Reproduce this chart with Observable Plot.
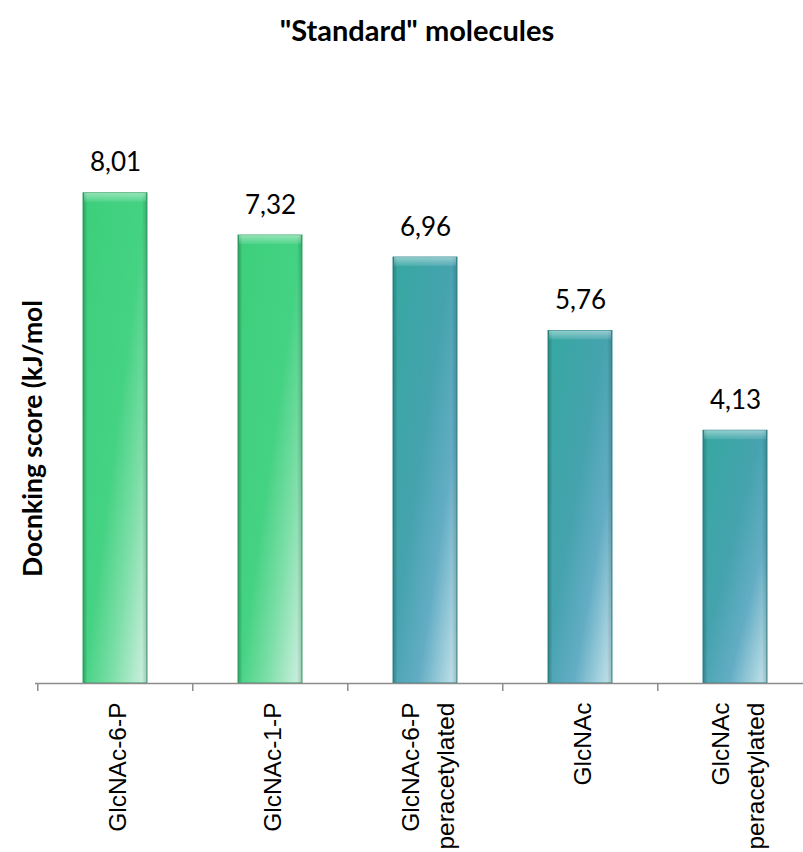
<!DOCTYPE html>
<html>
<head>
<meta charset="utf-8">
<script src="https://cdn.jsdelivr.net/npm/d3@7"></script>
<script src="https://cdn.jsdelivr.net/npm/@observablehq/plot@0.6"></script>
<style>
  body { margin: 0; background: #fff; }
  #title { width: 803px; height: 60px; box-sizing: border-box; padding-top: 15px; padding-left: 31px;
    text-align: center; font-family: Lato, "Open Sans", sans-serif; font-weight: bold; font-size: 29px; line-height: 29px; color: #000; }
</style>
</head>
<body>
<div id="title">"Standard" molecules</div>
<div id="chart"></div>
<script>
const names = ["GlcNAc-6-P", "GlcNAc-1-P", "GlcNAc-6-P\nperacetylated", "GlcNAc", "GlcNAc\nperacetylated"];
const scores = [8.01, 7.32, 6.96, 5.76, 4.13];
const groups = ["green", "green", "teal", "teal", "teal"];
const yLabel = "Docnking score (kJ/mol";

const data = names.map((n, i) => ({name: n, score: scores[i], group: groups[i]}));
const fmt = v => v.toFixed(2).replace(".", ",");

const step = (814 - 36.5) / 5;

const chart = Plot.plot({
  width: 803,
  height: 792,
  marginLeft: 35,
  marginRight: 0,
  marginTop: 0,
  marginBottom: 36,
  x: {domain: names, range: [36.5, 814], paddingInner: 0.588, paddingOuter: 0.294, axis: null},
  y: {domain: [0, 9], range: [623, 623 - 9 * 61.2], axis: null},
  marks: [
    Plot.barY(data.filter(d => d.group === "green"), {x: "name", y: "score", fill: "url(#gGreen)", stroke: "#34a866", strokeWidth: 1}),
    Plot.barY(data.filter(d => d.group === "teal"), {x: "name", y: "score", fill: "url(#gTeal)", stroke: "#2e8a90", strokeWidth: 1}),
    Plot.barY(data, {x: "name", y: "score", fill: "url(#gShade)"}),
    Plot.barY(data, {x: "name", y1: "score", y2: "score", insetBottom: -9, insetLeft: 1, insetRight: 1, fill: "url(#gBevel)"}),
    Plot.ruleY([0], {stroke: "#8c8c8c", strokeWidth: 1.5}),
    Plot.ruleX(data, {x: "name", y1: 0, y2: 0, insetBottom: -8, dx: -step / 2, stroke: "#8c8c8c", strokeWidth: 1.5}),
    Plot.text(data, {x: "name", y: "score", text: d => fmt(d.score), lineAnchor: "bottom", dy: -22,
      fontFamily: "Lato, 'Open Sans', sans-serif", fontSize: 26, fill: "#000"}),
    Plot.text(data, {x: "name", y: 0, text: "name", rotate: -90, textAnchor: "end", lineAnchor: "middle", lineHeight: 1.4, dy: 19,
      fontFamily: "'Liberation Sans', Arial, sans-serif", fontSize: 24.5, fill: "#000"}),
    Plot.text([yLabel], {frameAnchor: "left", text: d => d, rotate: -90, textAnchor: "middle", lineAnchor: "bottom", dx: 6,
      fontFamily: "Lato, 'Open Sans', sans-serif", fontWeight: "bold", fontSize: 26.5, fill: "#000"})
  ]
});

const svg = d3.select(chart);
const defs = svg.insert("defs", ":first-child");
function grad(id, stops, x2 = 1, y2 = 1) {
  const g = defs.append("linearGradient").attr("id", id).attr("x1", 0).attr("y1", 0).attr("x2", x2).attr("y2", y2);
  stops.forEach(([o, c, a = 1]) => g.append("stop").attr("offset", o).attr("stop-color", c).attr("stop-opacity", a));
}
grad("gGreen", [[0, "#3dcf7c"], [0.5, "#44d283"], [0.72, "#7cdea7"], [1, "#d2f1e4"]]);
grad("gTeal", [[0, "#36a8a1"], [0.45, "#45a3ae"], [0.7, "#64adc4"], [1, "#c8e5ec"]]);
grad("gShade", [[0, "#004030", 0.28], [0.07, "#000000", 0], [0.92, "#000000", 0], [1, "#003030", 0.22]], 1, 0);
grad("gBevel", [[0, "#ffffff", 0.45], [1, "#ffffff", 0.08]], 0, 1);

document.getElementById("chart").appendChild(chart);
</script>
</body>
</html>
